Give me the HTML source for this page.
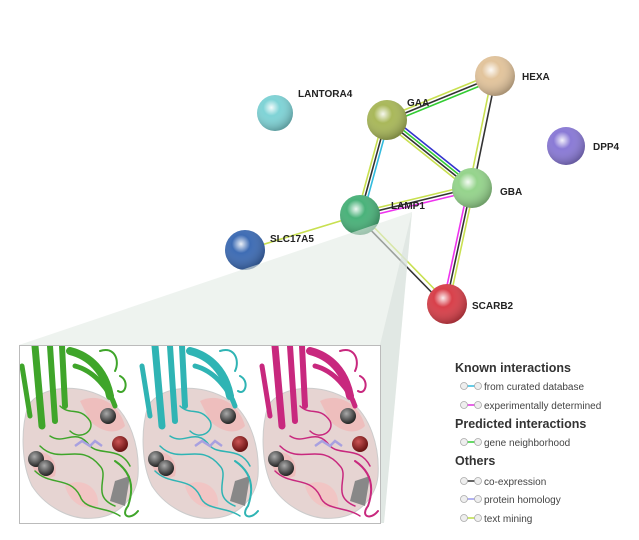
<!DOCTYPE html><html><head><style>
body{margin:0;background:#fff;width:639px;height:540px;overflow:hidden;font-family:"Liberation Sans",sans-serif}
svg{position:absolute;left:0;top:0}
</style></head><body>
<svg width="639" height="540" viewBox="0 0 639 540">
<defs>
<radialGradient id="g" cx="40%" cy="35%" r="65%"><stop offset="0" stop-color="#fff" stop-opacity=".9"/><stop offset=".35" stop-color="#fff" stop-opacity="0"/><stop offset="1" stop-color="#000" stop-opacity=".25"/></radialGradient>
<radialGradient id="sd" cx="40%" cy="35%" r="65%"><stop offset="0" stop-color="#aaa"/><stop offset="1" stop-color="#222"/></radialGradient>
<radialGradient id="sr" cx="40%" cy="35%" r="65%"><stop offset="0" stop-color="#c55"/><stop offset="1" stop-color="#611"/></radialGradient>
<g id="panel">
<path d="M8,60 C20,40 60,35 90,55 C110,70 120,100 118,130 C116,150 100,170 75,172 C50,175 25,160 12,140 C2,120 0,85 8,60 Z" fill="#e6d4d2" stroke="#ccc"/>
<path d="M60,55 C80,45 100,60 105,80 C95,90 80,85 70,75 Z" fill="#f0b8b8" opacity=".8"/>
<path d="M10,110 C20,100 40,110 35,130 C25,135 12,130 10,110Z" fill="#f0b8b8" opacity=".8"/>
<path d="M45,140 C60,130 80,140 78,160 C65,165 50,158 45,140Z" fill="#f4c0c0" opacity=".8"/>
<path d="M95,135 L110,130 L105,160 L90,155Z" fill="#888"/>
<g fill="none" stroke="currentColor" stroke-linecap="round">
<path d="M15,0 L22,80" stroke-width="7"/><path d="M30,0 L35,75" stroke-width="6"/><path d="M42,0 L45,60" stroke-width="6"/>
<path d="M50,5 C70,10 85,25 90,50" stroke-width="8"/><path d="M55,20 C75,25 90,45 95,60" stroke-width="5"/>
<path d="M2,20 L10,70" stroke-width="5"/>
<path d="M80,5 C95,0 100,15 95,25" stroke-width="2"/><path d="M100,30 C110,35 105,50 98,45" stroke-width="2"/>
<path d="M20,100 C40,120 60,95 80,120 C90,130 70,150 95,160" stroke-width="1.5"/>
<path d="M30,90 C45,100 55,80 70,100 C80,110 100,100 110,120" stroke-width="1.5"/>
<path d="M15,125 C30,140 50,130 60,150 C65,165 85,160 100,170" stroke-width="1.5"/>
<path d="M95,115 C110,125 115,140 108,160 C100,170 110,175 118,165" stroke-width="2"/>
<path d="M40,60 C50,70 60,60 70,75 C75,85 60,95 50,85" stroke-width="1.5"/>
</g>
<path d="M55,100 L62,95 L70,100 L75,95 L82,100" fill="none" stroke="#a8a0e0" stroke-width="2.5"/>
<circle cx="88" cy="70" r="8" fill="url(#sd)"/><circle cx="16" cy="113" r="8" fill="url(#sd)"/><circle cx="26" cy="122" r="8" fill="url(#sd)"/>
<circle cx="100" cy="98" r="8" fill="url(#sr)"/>
</g>
</defs>
<g stroke-width="1.6" fill="none">
<line x1="387" y1="117" x2="495" y2="73" stroke="#c8e050"/><line x1="388" y1="120" x2="496" y2="76" stroke="#333"/><line x1="389" y1="123" x2="497" y2="79" stroke="#3c3"/>
<line x1="492" y1="76" x2="469" y2="188" stroke="#c8e050"/><line x1="496" y1="76" x2="473" y2="188" stroke="#333"/>
<line x1="384" y1="122" x2="469" y2="190" stroke="#c8e050"/><line x1="386" y1="120" x2="471" y2="188" stroke="#333"/><line x1="388" y1="118" x2="473" y2="186" stroke="#3c3"/><line x1="390" y1="116" x2="475" y2="184" stroke="#33c"/>
<line x1="383" y1="120" x2="357" y2="215" stroke="#c8e050"/><line x1="386" y1="120" x2="360" y2="215" stroke="#333"/><line x1="389" y1="120" x2="363" y2="215" stroke="#3bd"/>
<line x1="360" y1="212" x2="472" y2="185" stroke="#c8e050"/><line x1="360" y1="215" x2="472" y2="188" stroke="#333"/><line x1="361" y1="218" x2="473" y2="191" stroke="#e3e"/>
<line x1="468" y1="188" x2="443" y2="304" stroke="#e3e"/><line x1="471" y1="188" x2="446" y2="304" stroke="#333"/><line x1="474" y1="188" x2="449" y2="304" stroke="#c8e050"/>
<line x1="358" y1="217" x2="445" y2="306" stroke="#333"/><line x1="361" y1="214" x2="448" y2="303" stroke="#c8e050"/>
<line x1="360" y1="215" x2="245" y2="250" stroke="#c8e050"/>
</g>
<g>
<circle cx="275" cy="113" r="18" fill="#7fd3d6"/><circle cx="275" cy="113" r="18" fill="url(#g)"/>
<circle cx="387" cy="120" r="20" fill="#a9b85a"/><circle cx="387" cy="120" r="20" fill="url(#g)"/>
<circle cx="495" cy="76" r="20" fill="#e2c49c"/><circle cx="495" cy="76" r="20" fill="url(#g)"/>
<circle cx="566" cy="146" r="19" fill="#8a7ad6"/><circle cx="566" cy="146" r="19" fill="url(#g)"/>
<circle cx="472" cy="188" r="20" fill="#95d48c"/><circle cx="472" cy="188" r="20" fill="url(#g)"/>
<circle cx="360" cy="215" r="20" fill="#4ab27a"/><circle cx="360" cy="215" r="20" fill="url(#g)"/>
<circle cx="245" cy="250" r="20" fill="#3e6cb4"/><circle cx="245" cy="250" r="20" fill="url(#g)"/>
<circle cx="447" cy="304" r="20" fill="#d8404a"/><circle cx="447" cy="304" r="20" fill="url(#g)"/>
</g>
<polygon points="345,235 412,212 384,523 380,523 380,345 19,345" fill="#e3ebe5" opacity=".6"/>
<polygon points="412,212 384,523 380,523 380,345" fill="#d8e1dc" opacity=".6"/>
<g font-size="10" fill="#222" font-weight="bold">
<text x="298" y="97">LANTORA4</text><text x="407" y="106">GAA</text><text x="522" y="80">HEXA</text>
<text x="593" y="150">DPP4</text><text x="500" y="195">GBA</text><text x="391" y="209">LAMP1</text>
<text x="270" y="242">SLC17A5</text><text x="472" y="309">SCARB2</text>
</g>
<rect x="19.5" y="345.5" width="361" height="178" fill="#fff" stroke="#bbb"/>
<svg x="20" y="346" width="360" height="177" overflow="hidden">
<use href="#panel" x="0" y="0" style="color:#3fa52a"/>
<use href="#panel" x="120" y="0" style="color:#2fb4b4"/>
<use href="#panel" x="240" y="0" style="color:#c8287e"/>
</svg>
<g font-size="10" fill="#444">
<text x="455" y="372" font-weight="bold" font-size="12.5" fill="#333">Known interactions</text>
<text x="484" y="390">from curated database</text>
<text x="484" y="409">experimentally determined</text>
<text x="455" y="428" font-weight="bold" font-size="12.5" fill="#333">Predicted interactions</text>
<text x="484" y="446">gene neighborhood</text>
<text x="455" y="465" font-weight="bold" font-size="12.5" fill="#333">Others</text>
<text x="484" y="485">co-expression</text>
<text x="484" y="503">protein homology</text>
<text x="484" y="522">text mining</text>
</g>
<g stroke-width="1.5">
<line x1="464" y1="386" x2="478" y2="386" stroke="#3bd"/><line x1="464" y1="405" x2="478" y2="405" stroke="#d3d"/>
<line x1="464" y1="442" x2="478" y2="442" stroke="#3c3"/><line x1="464" y1="481" x2="478" y2="481" stroke="#333"/>
<line x1="464" y1="499" x2="478" y2="499" stroke="#99e"/><line x1="464" y1="518" x2="478" y2="518" stroke="#bd4"/>
</g>
<g fill="#eee" stroke="#aaa" stroke-width=".8">
<circle cx="464" cy="386" r="3.5"/><circle cx="478" cy="386" r="3.5"/><circle cx="464" cy="405" r="3.5"/><circle cx="478" cy="405" r="3.5"/>
<circle cx="464" cy="442" r="3.5"/><circle cx="478" cy="442" r="3.5"/><circle cx="464" cy="481" r="3.5"/><circle cx="478" cy="481" r="3.5"/>
<circle cx="464" cy="499" r="3.5"/><circle cx="478" cy="499" r="3.5"/><circle cx="464" cy="518" r="3.5"/><circle cx="478" cy="518" r="3.5"/>
</g>
</svg>
</body></html>
